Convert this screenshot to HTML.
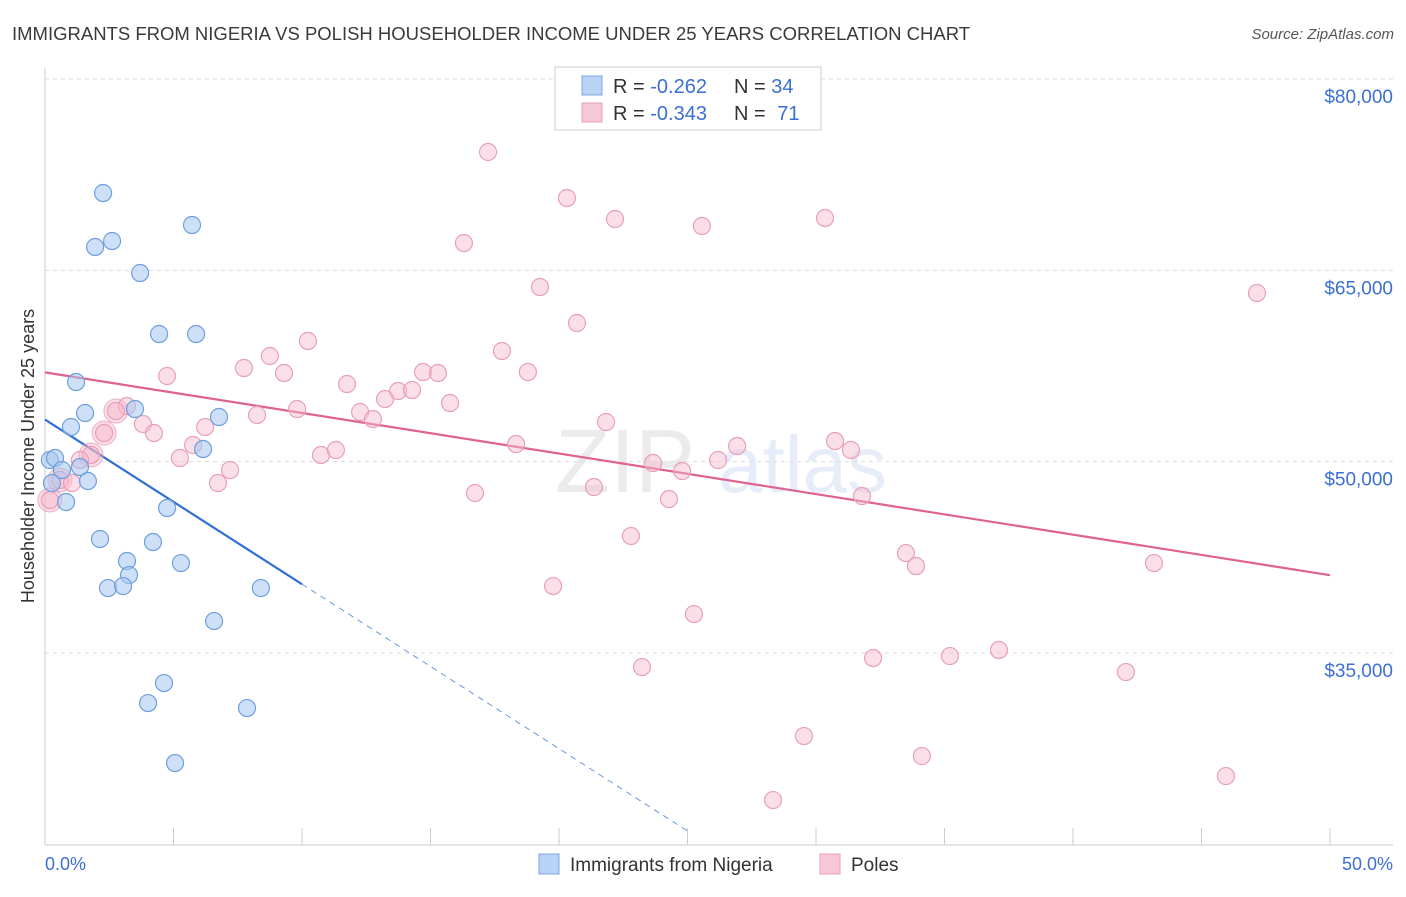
<!DOCTYPE html>
<html><head><meta charset="utf-8">
<style>
body{margin:0;background:#fff;font-family:"Liberation Sans",sans-serif;}
svg text{font-family:"Liberation Sans",sans-serif;}
</style></head>
<body>
<svg id="chart" width="1406" height="892" viewBox="0 0 1406 892" xmlns="http://www.w3.org/2000/svg">
<text x="12" y="40" font-size="18.5" fill="#3a3a3a">IMMIGRANTS FROM NIGERIA VS POLISH HOUSEHOLDER INCOME UNDER 25 YEARS CORRELATION CHART</text>
<text x="1394" y="39" font-size="15" fill="#555" text-anchor="end" font-style="italic">Source: ZipAtlas.com</text>
<g opacity="0.12">
<text x="555" y="492" font-size="90" fill="#666" font-family="Liberation Serif">ZIP</text>
<text x="718" y="492" font-size="80" fill="#3b6fd4">atlas</text>
</g>
<g id="grid"></g>
<g id="axes"></g>
<g id="lines"></g>
<g id="points"></g>
<text transform="translate(34,456) rotate(-90)" font-size="18" fill="#333" text-anchor="middle">Householder Income Under 25 years</text>
<text x="45" y="870" font-size="18" fill="#3b6fd4">0.0%</text>
<text x="1393" y="870" font-size="18" fill="#3b6fd4" text-anchor="end">50.0%</text>
<g>
<rect x="555" y="67" width="266" height="63" fill="#fff" stroke="#ccc"/>
<rect x="582" y="76" width="20" height="19" fill="#b8d3f5" stroke="#7aa8e0"/>
<rect x="582" y="103" width="20" height="19" fill="#f9c8d6" stroke="#e8a0b8"/>
<text x="613" y="93" font-size="20" fill="#333">R = <tspan fill="#3b6fd4">-0.262</tspan></text>
<text x="734" y="93" font-size="20" fill="#333">N = <tspan fill="#3b6fd4">34</tspan></text>
<text x="613" y="120" font-size="20" fill="#333">R = <tspan fill="#3b6fd4">-0.343</tspan></text>
<text x="734" y="120" font-size="20" fill="#333">N = <tspan fill="#3b6fd4" dx="6">71</tspan></text>
</g>
<g>
<rect x="539" y="854" width="20" height="20" fill="#b8d3f5" stroke="#7aa8e0"/>
<text x="570" y="871" font-size="19" fill="#333">Immigrants from Nigeria</text>
<rect x="820" y="854" width="20" height="20" fill="#f9c8d6" stroke="#e8a0b8"/>
<text x="851" y="871" font-size="19" fill="#333">Poles</text>
</g>
</svg>
<script>
const yTicks=[80000,65000,50000,35000];
const yTickLabels=["$80,000","$65,000","$50,000","$35,000"];
const xTicks=[0,5,10,15,20,25,30,35,40,45,50];
const nigeriaX=[2.26,1.95,2.61,3.70,5.72,4.44,5.88,1.21,1.56,3.50,6.77,1.01,6.15,0.19,0.39,0.66,1.36,1.67,0.27,0.82,4.75,2.14,4.20,3.19,5.29,3.27,2.45,3.04,8.40,6.58,4.63,4.01,7.86,5.06];
const nigeriaY=[71062,66829,67299,64790,68554,60008,60008,56245,53814,54128,53501,52717,50992,50130,50286,49346,49581,48483,48326,46837,46366,43936,43701,42211,42054,41114,40094,40251,40094,37507,32646,31078,30686,26374];
const polesX=[17.24,20.31,22.18,25.56,30.35,16.30,19.26,47.16,20.70,10.23,8.75,17.78,7.74,9.30,4.75,18.79,14.71,15.29,11.75,13.23,13.74,14.28,15.76,3.19,9.81,8.25,12.26,12.76,2.76,3.81,4.24,2.30,6.23,21.83,18.33,26.93,30.74,5.76,31.36,1.79,10.74,11.32,5.25,7.20,23.66,24.79,26.19,0.58,1.05,6.73,16.73,21.36,24.28,31.79,0.19,22.80,33.50,33.89,43.15,19.77,25.25,23.23,32.22,35.21,37.12,42.06,29.53,34.12,45.95,28.33,1.36];
const polesY=[74277,70670,69024,68475,69102,67142,63693,63222,60870,59459,58283,58675,57342,56950,56715,57029,57029,56950,56088,54912,55539,55618,54598,54363,54128,53658,53893,53344,53971,52952,52246,52246,52717,53109,51384,51227,51619,51306,50914,50522,50522,50914,50286,49346,49894,49267,50130,48562,48326,48326,47542,48013,47072,47307,46994,44171,42838,41819,42054,40251,38056,33901,34606,34763,35234,33509,28491,26923,25355,23474,50130];
const bigPoleX=[0.19,1.79,2.30,0.58,2.76];
const bigPoleY=[46994,50522,52246,48562,53971];
const nigeriaTrendX=[0,10];
const nigeriaTrendY=[53300,40400];
const nigeriaDashX=[10,25.1];
const polesTrendX=[0,50];
const polesTrendY=[57000,41100];

const NS="http://www.w3.org/2000/svg";
const xs=v=>45+v*25.7;
const ys=v=>79+(80000-v)*0.012756;
function mk(tag,attrs,parent){const e=document.createElementNS(NS,tag);for(const k in attrs)e.setAttribute(k,attrs[k]);parent.appendChild(e);return e;}
const grid=document.getElementById('grid'),axes=document.getElementById('axes'),lines=document.getElementById('lines'),pts=document.getElementById('points');
yTicks.forEach((t,i)=>{
  const l=mk('line',{x1:45,x2:1393,y1:ys(t),y2:ys(t),stroke:'#ddd','stroke-dasharray':'4,4'},grid);
  
  
  const tx=mk('text',{x:1393,y:ys(t)+24,'font-size':19,fill:'#3b6fd4','text-anchor':'end'},grid);
  tx.textContent=yTickLabels[i];
  
  
});
const ya=mk('line',{x1:45,x2:45,y1:68,y2:845,stroke:'#ccc'},axes);


const xa=mk('line',{x1:45,x2:1393,y1:845,y2:845,stroke:'#ccc'},axes);


xTicks.forEach(t=>{
  const l=mk('line',{x1:xs(t),x2:xs(t),y1:828,y2:845,stroke:'#ccc'},axes);
  
  
});
function yAt(xa,ya,x){return ya[0]+(ya[1]-ya[0])*(x-xa[0])/(xa[1]-xa[0]);}
const bl=mk('line',{x1:xs(nigeriaTrendX[0]),y1:ys(nigeriaTrendY[0]),x2:xs(nigeriaTrendX[1]),y2:ys(nigeriaTrendY[1]),stroke:'#2f6fd6','stroke-width':2.2},lines);


const bd=mk('line',{x1:xs(nigeriaDashX[0]),y1:ys(yAt(nigeriaTrendX,nigeriaTrendY,nigeriaDashX[0])),x2:xs(nigeriaDashX[1]),y2:ys(yAt(nigeriaTrendX,nigeriaTrendY,nigeriaDashX[1])),stroke:'#6a98e0','stroke-width':1,'stroke-dasharray':'6,5'},lines);


const pl=mk('line',{x1:xs(polesTrendX[0]),y1:ys(polesTrendY[0]),x2:xs(polesTrendX[1]),y2:ys(polesTrendY[1]),stroke:'#e0628e','stroke-width':2.2},lines);


bigPoleX.forEach((x,i)=>{
  const c=mk('circle',{cx:xs(x),cy:ys(bigPoleY[i]),r:12,fill:'rgba(245,170,195,0.4)',stroke:'rgba(232,150,180,0.7)'},pts);
  
  
});
polesX.forEach((x,i)=>{
  const c=mk('circle',{cx:xs(x),cy:ys(polesY[i]),r:8.5,fill:'rgba(247,185,205,0.45)',stroke:'#e8a0b8','stroke-width':1.2},pts);
  
  
});
nigeriaX.forEach((x,i)=>{
  const c=mk('circle',{cx:xs(x),cy:ys(nigeriaY[i]),r:8.5,fill:'rgba(165,198,240,0.55)',stroke:'#6f9fdc','stroke-width':1.2},pts);
  
  
});
</script>
</body></html>
